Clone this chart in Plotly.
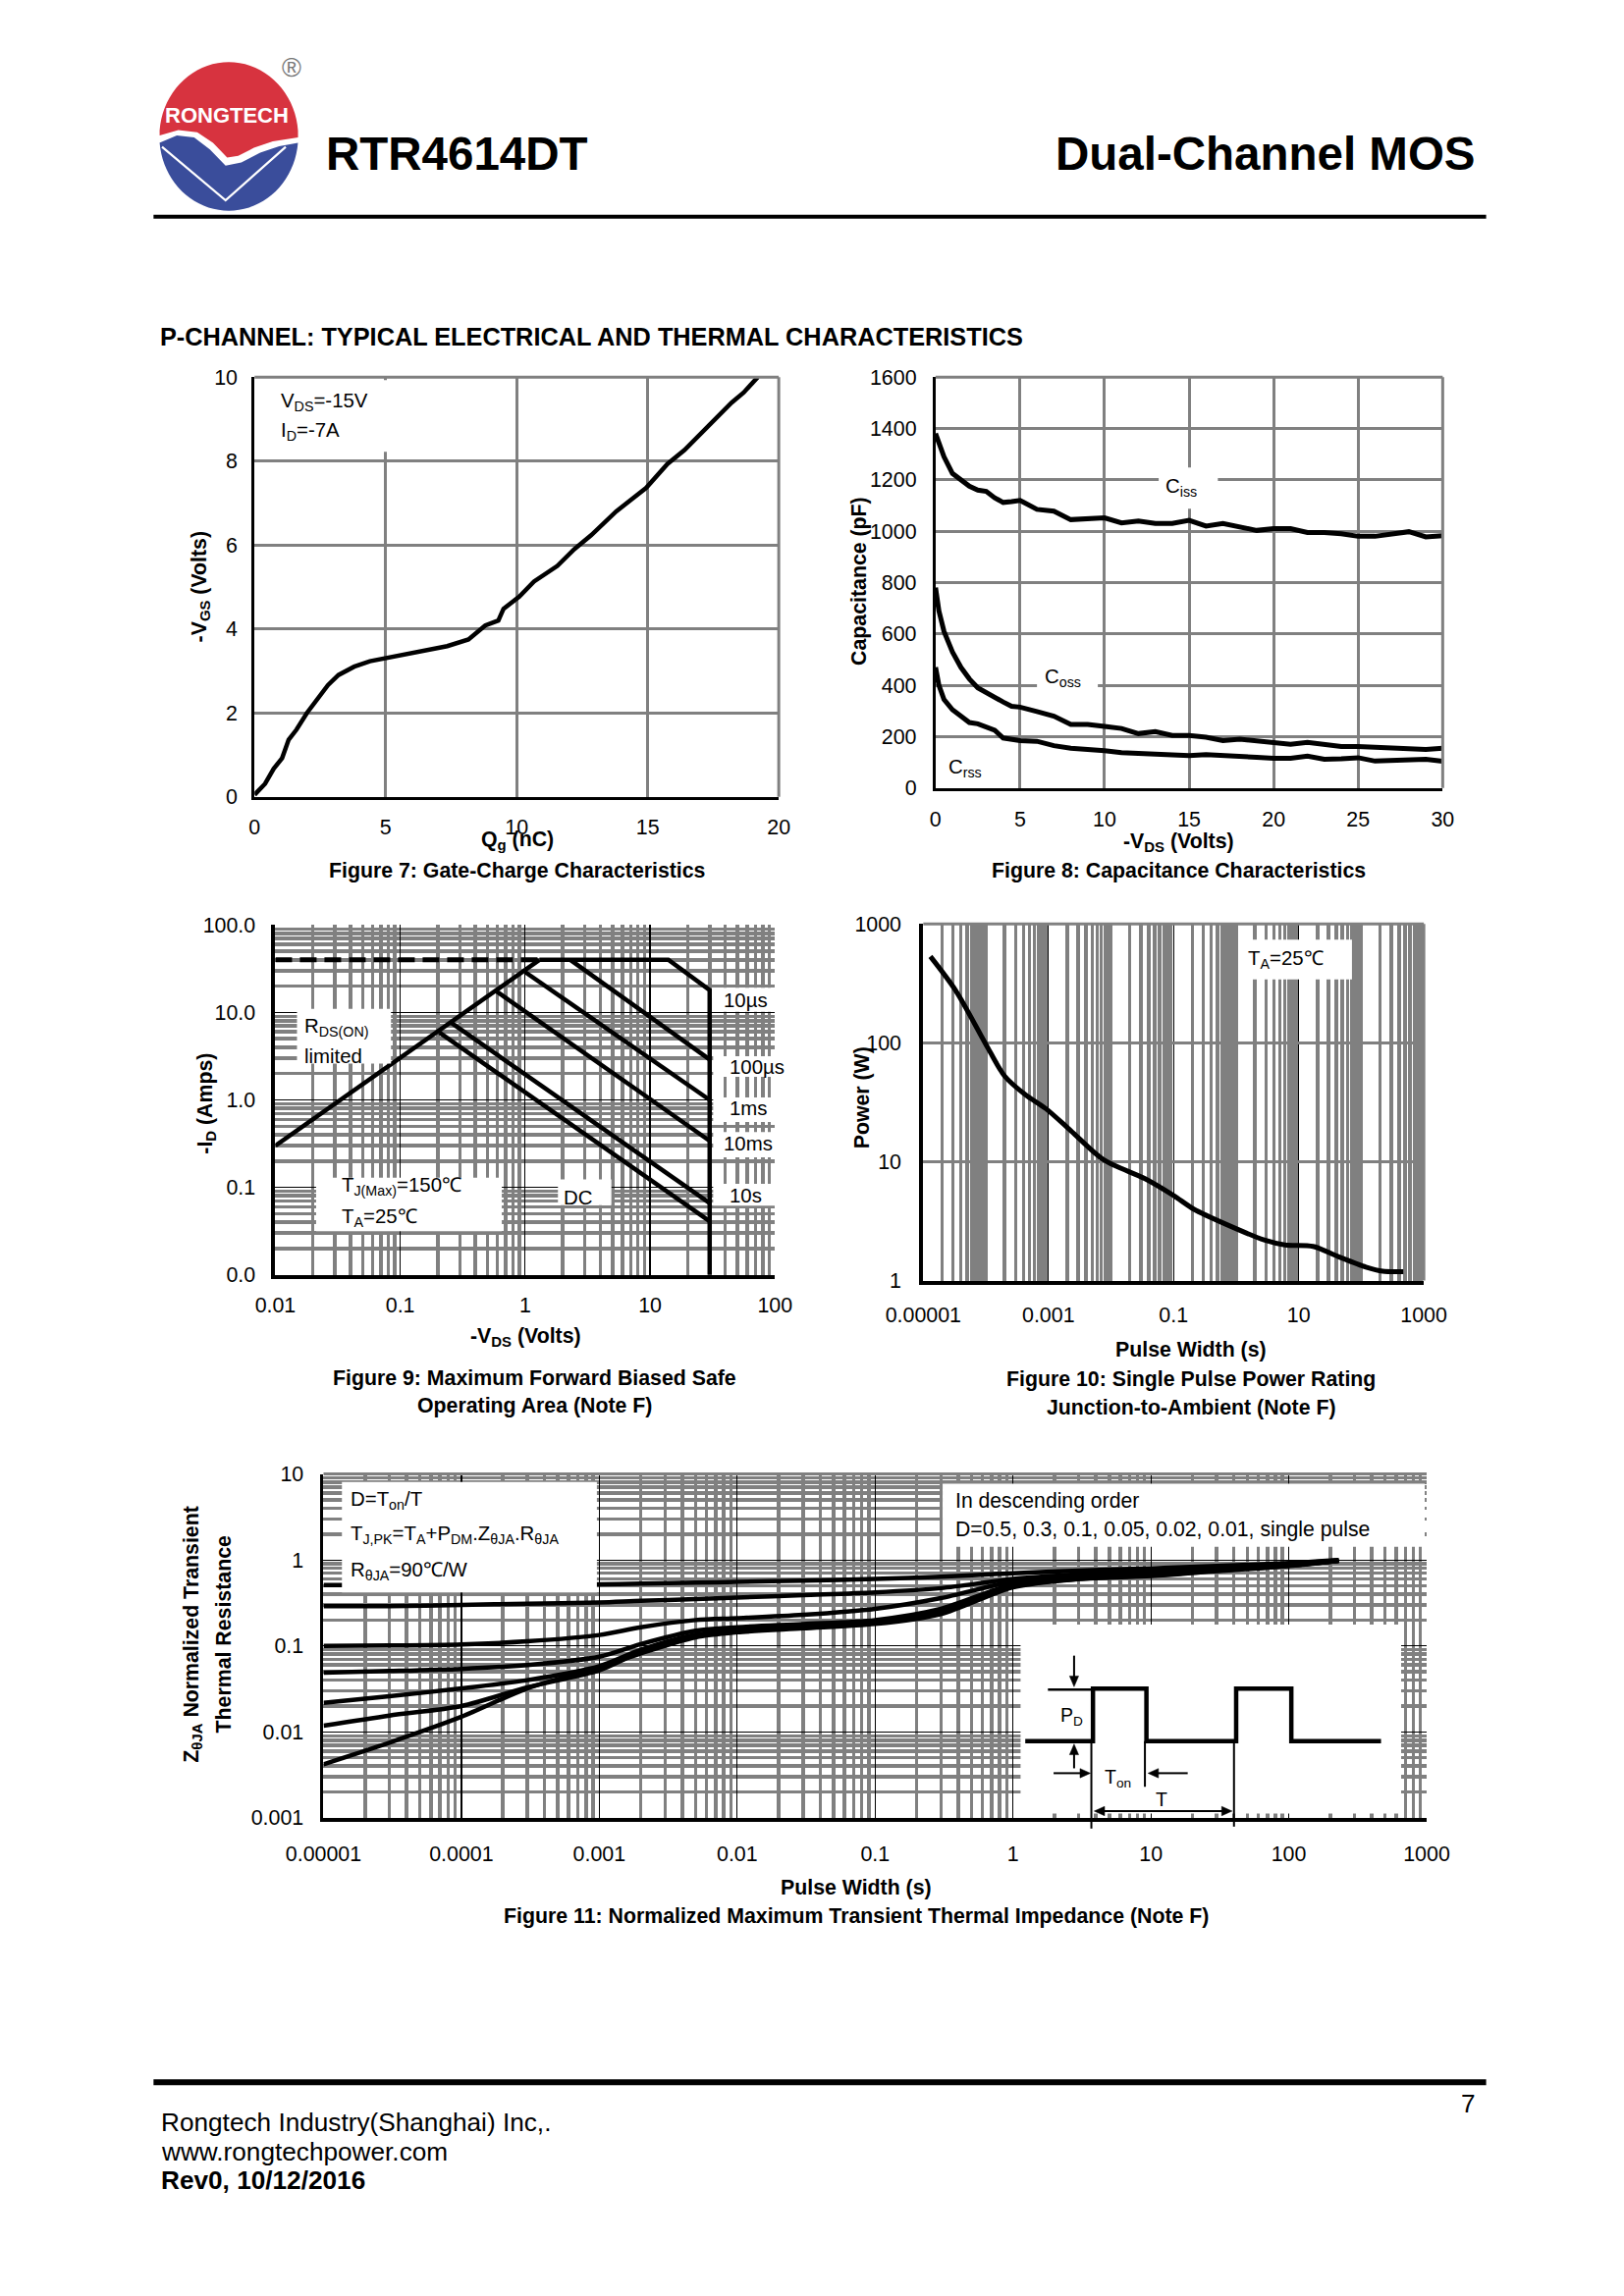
import math
import plotly.graph_objects as go

W, H = 1654, 2339
FONT = "Liberation Sans, Arial, Helvetica, sans-serif"
GRID = "#808080"

# ---------------- data ----------------
# Figure 7: gate charge
gc_qg_nc = [0, 0.4, 0.73, 1.05, 1.3, 1.6, 2.0, 2.4, 2.8, 3.2, 3.8, 4.4, 5.1, 5.7, 6.5, 7.35, 8.16,
            8.8, 9.3, 9.5, 10.1, 10.66, 11.55, 12.2, 12.84, 13.8, 14.94, 15.75, 16.4, 16.9, 17.5,
            18.2, 18.66, 19.2]
gc_vgs_v = [0.05, 0.31, 0.67, 0.92, 1.36, 1.6, 2.0, 2.34, 2.66, 2.9, 3.1, 3.23, 3.31, 3.39, 3.47,
            3.59, 3.75, 4.08, 4.2, 4.48, 4.77, 5.13, 5.5, 5.9, 6.23, 6.8, 7.36, 7.93, 8.26, 8.58,
            8.95, 9.39, 9.63, 10.0]

# Figure 8: capacitance
cap_vds_v = [0, 0.2, 0.5, 1, 1.5, 2, 2.5, 3, 3.5, 4, 4.5, 5, 6, 7, 8, 9, 10, 11, 12, 13, 14, 15,
             16, 17, 18, 19, 20, 21, 22, 23, 24, 25, 26, 27, 28, 29, 30]
cap_ciss_pf = [1380, 1345, 1290, 1225, 1200, 1175, 1160, 1155, 1130, 1112, 1115, 1120, 1085, 1078,
               1045, 1050, 1052, 1032, 1040, 1030, 1030, 1042, 1020, 1030, 1015, 1003, 1010, 1010,
               995, 995, 990, 980, 980, 988, 998, 978, 982]
cap_coss_pf = [780, 690, 610, 530, 470, 425, 390, 370, 355, 335, 318, 315, 298, 280, 248, 248, 240,
               232, 212, 220, 205, 205, 198, 185, 190, 182, 175, 170, 178, 168, 162, 162, 160, 158,
               152, 150, 155]
cap_crss_pf = [470, 400, 345, 305, 280, 255, 250, 235, 225, 195, 188, 185, 182, 165, 155, 152, 145,
               138, 136, 134, 132, 126, 130, 128, 124, 120, 116, 116, 124, 112, 114, 118, 105, 108,
               108, 112, 104]

# Figure 9: safe operating area
soa_dash_v = [0.01, 1.3]
soa_dash_a = [40, 40]
soa_limit_v = [1.3, 14, 30, 30]
soa_limit_a = [40, 40, 18, 0.01]
soa_rds_v = [0.01, 1.3]
soa_rds_a = [0.3, 40]
soa_100us_v = [2.3, 30]
soa_100us_a = [40, 2.9]
soa_1ms_v = [1.0, 30]
soa_1ms_a = [29, 1.0]
soa_10ms_v = [0.59, 30]
soa_10ms_a = [17.4, 0.34]
soa_10s_v = [0.254, 30]
soa_10s_a = [7.7, 0.066]
soa_dc_v = [0.206, 30]
soa_dc_a = [5.9, 0.041]
soa_x_tickvals = [0.01, 0.1, 1, 10, 100]
soa_x_ticktext = ["0.01", "0.1", "1", "10", "100"]
soa_y_tickvals = [0.01, 0.1, 1, 10, 100]
soa_y_ticktext = ["0.0", "0.1", "1.0", "10.0", "100.0"]

# Figure 10: single pulse power
spp_pw_s = [1.3e-5, 3.3e-5, 1.1e-4, 2.0e-4, 4.3e-4, 9.1e-4, 2.3e-3, 7.6e-3, 3.5e-2, 0.1, 0.21,
            0.7, 2.8, 6, 17, 42, 119, 220, 470]
spp_power_w = [534, 276, 89, 52.6, 36.6, 28, 18.2, 10.4, 7.2, 5.2, 4.0, 2.97, 2.2, 2.0, 1.94,
               1.6, 1.3, 1.2, 1.19]
spp_x_tickvals = [1e-5, 1e-3, 0.1, 10, 1000]
spp_x_ticktext = ["0.00001", "0.001", "0.1", "10", "1000"]
spp_y_tickvals = [1, 10, 100, 1000]
spp_y_ticktext = ["1", "10", "100", "1000"]

# Figure 11: normalized transient thermal impedance
zth_pw_s = [1e-5, 3e-5, 1e-4, 3e-4, 1e-3, 2e-3, 5e-3, 1e-2, 3e-2, 0.1, 0.3, 1, 3, 10, 30, 100, 230]
zth_d050 = [0.51, 0.51, 0.51, 0.515, 0.52, 0.53, 0.545, 0.555, 0.575, 0.60, 0.64, 0.70, 0.75, 0.80, 0.85, 0.92, 1.0]
zth_d030 = [0.29, 0.29, 0.30, 0.31, 0.32, 0.335, 0.35, 0.365, 0.39, 0.42, 0.47, 0.60, 0.68, 0.75, 0.82, 0.90, 0.99]
zth_d010 = [0.100, 0.101, 0.104, 0.113, 0.134, 0.165, 0.200, 0.210, 0.230, 0.27, 0.36, 0.56, 0.64, 0.70, 0.78, 0.88, 0.99]
zth_d005 = [0.049, 0.051, 0.054, 0.060, 0.075, 0.105, 0.150, 0.165, 0.180, 0.20, 0.27, 0.52, 0.62, 0.68, 0.76, 0.87, 0.98]
zth_d002 = [0.0218, 0.026, 0.032, 0.040, 0.058, 0.090, 0.135, 0.152, 0.170, 0.19, 0.25, 0.50, 0.61, 0.67, 0.75, 0.86, 0.98]
zth_d001 = [0.0118, 0.0155, 0.020, 0.033, 0.052, 0.085, 0.130, 0.148, 0.165, 0.185, 0.24, 0.49, 0.60, 0.66, 0.75, 0.86, 0.98]
zth_single = [0.0042, 0.0075, 0.0150, 0.032, 0.056, 0.082, 0.126, 0.144, 0.160, 0.180, 0.235, 0.48, 0.60, 0.65, 0.74, 0.85, 0.98]
zth_x_tickvals = [1e-5, 1e-4, 1e-3, 1e-2, 0.1, 1, 10, 100, 1000]
zth_x_ticktext = ["0.00001", "0.0001", "0.001", "0.01", "0.1", "1", "10", "100", "1000"]
zth_y_tickvals = [0.001, 0.01, 0.1, 1, 10]
zth_y_ticktext = ["0.001", "0.01", "0.1", "1", "10"]

# ---------------- layout helpers ----------------
F7 = (229, 376, 784, 808)     # left, top, right, bottom in page pixels
F8 = (950, 376, 1487, 799)
F9 = (251, 940, 780, 1300)
F10 = (937, 939, 1467, 1306)
F11 = (302, 1505, 1470, 1859)

TICK = 21.4
TITLE = 21.3
LABEL = 20.4


def dom(box):
    L, T, R, B = box
    return [L / W, R / W], [1 - B / H, 1 - T / H]


def px(x):
    return x / W


def py(y):
    return 1 - y / H


def minor_vals(n0, n1, ks, exclude=()):
    out = []
    for n in range(n0, n1 + 1):
        for k in ks:
            v = k * 10.0 ** n
            if any(abs(math.log10(v) - math.log10(e)) < 1e-6 for e in exclude):
                continue
            out.append(v)
    return out


TICKFONT = dict(family=FONT, size=TICK, color="black")


def lin_axis(domain, rng, dtick, anchor, standoff):
    return dict(domain=domain, range=rng, dtick=dtick, tick0=0, anchor=anchor,
                showgrid=True, gridcolor=GRID, gridwidth=3, zeroline=False,
                showline=True, linecolor="black", linewidth=3, ticks="",
                ticklabelstandoff=standoff, tickfont=TICKFONT, fixedrange=True)


def log_axis(domain, rng, tickvals, ticktext, anchor, standoff, major_color, major_width,
             minor_list=None, linewidth=3.5):
    d = dict(domain=domain, type="log", range=rng, tickmode="array", tickvals=tickvals,
             ticktext=ticktext, anchor=anchor, showgrid=True, gridcolor=major_color,
             gridwidth=major_width, zeroline=False, showline=True, linecolor="black",
             linewidth=linewidth, ticks="", ticklabelstandoff=standoff, tickfont=TICKFONT,
             fixedrange=True)
    if minor_list:
        d["minor"] = dict(tickmode="array", tickvals=minor_list, showgrid=True,
                          gridcolor=GRID, gridwidth=3.5, ticks="")
    return d


fig = go.Figure()


def line(x, y, xa, ya, width=4.5, dash=None, shape="linear"):
    fig.add_trace(go.Scatter(x=x, y=y, xaxis=xa, yaxis=ya, mode="lines",
                             line=dict(color="black", width=width, dash=dash, shape=shape,
                                       smoothing=0.8 if shape == "spline" else None),
                             hoverinfo="skip", showlegend=False))


# Figure 7
line(gc_qg_nc, gc_vgs_v, "x", "y", 4.5)
# Figure 8
line(cap_vds_v, cap_ciss_pf, "x2", "y2", 5)
line(cap_vds_v, cap_coss_pf, "x2", "y2", 5)
line(cap_vds_v, cap_crss_pf, "x2", "y2", 5)
# Figure 9
line(soa_dash_v, soa_dash_a, "x3", "y3", 5, dash="17px,8px")
line(soa_limit_v, soa_limit_a, "x3", "y3", 4.5)
for xv, yv in [(soa_rds_v, soa_rds_a), (soa_100us_v, soa_100us_a), (soa_1ms_v, soa_1ms_a),
               (soa_10ms_v, soa_10ms_a), (soa_10s_v, soa_10s_a), (soa_dc_v, soa_dc_a)]:
    line(xv, yv, "x3", "y3", 4.5)
# Figure 10
line(spp_pw_s, spp_power_w, "x4", "y4", 5, shape="spline")
# Figure 11
for yv in [zth_d050, zth_d030, zth_d010, zth_d005, zth_d002, zth_d001, zth_single]:
    line(zth_pw_s, yv, "x5", "y5", 4.5, shape="spline")

d7x, d7y = dom(F7)
d8x, d8y = dom(F8)
d9x, d9y = dom(F9)
d10x, d10y = dom(F10)
d11x, d11y = dom(F11)

layout = dict(
    width=W, height=H, margin=dict(l=0, r=0, t=0, b=0, pad=0),
    paper_bgcolor="white", plot_bgcolor="white", showlegend=False,
    font=dict(family=FONT, color="black"),
    xaxis=lin_axis(d7x, [0, 20], 5, "y", 10),
    yaxis=lin_axis(d7y, [0, 10], 2, "x", 10),
    xaxis2=lin_axis(d8x, [0, 30], 5, "y2", 11),
    yaxis2=lin_axis(d8y, [0, 1600], 200, "x2", 12),
    xaxis3=log_axis(d9x, [-2, 2], soa_x_tickvals, soa_x_ticktext, "y3", 9, "black", 1.2,
                    minor_vals(-2, 1, range(2, 10)), 4),
    yaxis3=log_axis(d9y, [-2, 2], soa_y_tickvals, soa_y_ticktext, "x3", 12, "black", 1.2,
                    minor_vals(-2, 1, range(2, 10)), 4),
    xaxis4=log_axis(d10x, [-5, 3], spp_x_tickvals, spp_x_ticktext, "y4", 13, "black", 1.2,
                    minor_vals(-5, 2, range(1, 10), exclude=spp_x_tickvals), 4),
    yaxis4=log_axis(d10y, [0, 3], spp_y_tickvals, spp_y_ticktext, "x4", 14, GRID, 3.5, None, 4),
    xaxis5=log_axis(d11x, [-5, 3], zth_x_tickvals, zth_x_ticktext, "y5", 14, "black", 1.2,
                    minor_vals(-5, 2, range(2, 10)), 4),
    yaxis5=log_axis(d11y, [-3, 1], zth_y_tickvals, zth_y_ticktext, "x5", 13, "black", 1.2,
                    minor_vals(-3, 0, range(2, 10)), 3),
)
fig.update_layout(**layout)

shapes = []
annotations = []


def ann(text, x, y, size=TITLE, bold=False, xanchor="center", yanchor="middle", angle=0,
        color="black"):
    t = f"<b>{text}</b>" if bold else text
    annotations.append(dict(text=t, x=px(x), y=py(y), xref="paper", yref="paper",
                            showarrow=False, xanchor=xanchor, yanchor=yanchor, textangle=angle,
                            font=dict(family=FONT, size=size, color=color)))


def white_box(xr, yr, x0, x1, y0, y1):
    shapes.append(dict(type="rect", xref=xr, yref=yr, x0=x0, x1=x1, y0=y0, y1=y1,
                       fillcolor="white", line=dict(width=0), layer="above"))


def border(xa, ya, sides):
    for s in sides:
        if s == "top":
            shapes.append(dict(type="line", xref=xa + " domain", yref=ya + " domain",
                               x0=0, x1=1, y0=1, y1=1, line=dict(color=GRID, width=3),
                               layer="above"))
        if s == "right":
            shapes.append(dict(type="line", xref=xa + " domain", yref=ya + " domain",
                               x0=1, x1=1, y0=0, y1=1, line=dict(color=GRID, width=3),
                               layer="above"))


def pline(x0, y0, x1, y1, width=2, color="black"):
    shapes.append(dict(type="line", xref="paper", yref="paper", x0=px(x0), y0=py(y0),
                       x1=px(x1), y1=py(y1), line=dict(color=color, width=width), layer="above"))


def ppath(points, close=False, fill=None, width=0, color="black"):
    s = "M " + " L ".join(f"{px(a):.5f},{py(b):.5f}" for a, b in points)
    if close:
        s += " Z"
    d = dict(type="path", xref="paper", yref="paper", path=s, layer="above",
             line=dict(color=color, width=width))
    if fill:
        d["fillcolor"] = fill
    shapes.append(d)


def head(tip, direction, size=11, half=4.8):
    x, y = tip
    if direction == "down":
        pts = [(x, y), (x - half, y - size), (x + half, y - size)]
    elif direction == "up":
        pts = [(x, y), (x - half, y + size), (x + half, y + size)]
    elif direction == "right":
        pts = [(x, y), (x - size, y - half), (x - size, y + half)]
    else:
        pts = [(x, y), (x + size, y - half), (x + size, y + half)]
    ppath(pts, close=True, fill="black", width=0.5)


# ---------------- page header ----------------
cx, cy, rx, ry = 201.7, 128.3, 73.5, 76.5
red_edge = [(128.5, 127.3), (148.3, 121.7), (168.3, 124), (185, 135), (200, 150),
            (211.7, 148.3), (228.3, 140), (248.3, 133.3), (275, 129.3)]
red_arc = [(cx + rx * math.cos(t), cy - ry * math.sin(t))
           for t in [i * math.pi / 40 for i in range(1, 40)]]
ppath(red_edge + red_arc, close=True, fill="#D7333F", width=0, color="#D7333F")
blue_edge = [(128.3, 135), (146.7, 127.3), (165, 129.3), (181.7, 141.7), (198.3, 158.3),
             (215, 155), (235, 145), (255, 138.3), (275, 135)]
blue_arc = [(cx + rx * math.cos(t), cy - ry * math.sin(t))
            for t in [-0.09 - i * (math.pi - 0.18) / 40 for i in range(0, 41)]]
ppath(blue_edge + blue_arc, close=True, fill="#3A4D9B", width=0, color="#3A4D9B")
ppath([(131, 139), (198.3, 194), (262, 139)], close=False, width=2.2, color="white")
ann("<b>RONGTECH</b>", 200, 107, size=22, color="white")
ann("®", 268.5, 58, size=27, color="#777777")

ann("RTR4614DT", 303, 146, size=47.5, bold=True, xanchor="left")
ann("Dual-Channel MOS", 1524, 146, size=47.5, bold=True, xanchor="right")
pline(122, 211, 1533, 211, width=4)
ann("P-CHANNEL: TYPICAL ELECTRICAL AND THERMAL CHARACTERISTICS", 127, 334, size=25.3,
    bold=True, xanchor="left")

# ---------------- Figure 7 ----------------
white_box("x", "y", 0.15, 6.5, 8.22, 9.93)
border("x", "y", ["top", "right"])
ann("V<sub>DS</sub>=-15V", 255, 402, size=LABEL, xanchor="left")
ann("I<sub>D</sub>=-7A", 255, 432, size=LABEL, xanchor="left")
ann("-V<sub>GS</sub> (Volts)", 171, 592, bold=True, angle=-90)
ann("Q<sub>g</sub> (nC)", 507, 853, bold=True)
ann("Figure 7: Gate-Charge Characteristics", 507, 884, bold=True)

# ---------------- Figure 8 ----------------
white_box("x2", "y2", 13.2, 16.7, 1087, 1248)
white_box("x2", "y2", 6.0, 9.6, 335, 470)
border("x2", "y2", ["top", "right"])
ann("C<sub>iss</sub>", 1191, 490, size=LABEL, xanchor="left")
ann("C<sub>oss</sub>", 1064, 686, size=LABEL, xanchor="left")
ann("C<sub>rss</sub>", 962, 778, size=LABEL, xanchor="left")
ann("Capacitance (pF)", 869, 586, bold=True, angle=-90)
ann("-V<sub>DS</sub> (Volts)", 1208, 855, bold=True)
ann("Figure 8: Capacitance Characteristics", 1208, 884, bold=True)

# ---------------- Figure 9 ----------------
white_box("x3", "y3", 0.0149, 0.0843, 2.6, 11)
white_box("x3", "y3", 0.0212, 0.65, 0.0316, 0.129)
white_box("x3", "y3", 1.83, 4.9, 0.0627, 0.123)
for y0, y1 in [(10.2, 19.2), (1.83, 3.16), (0.56, 1.07), (0.22, 0.43), (0.0616, 0.11)]:
    white_box("x3", "y3", 32, 100, y0, y1)
ann("R<sub>DS(ON)</sub>", 280, 1045, size=LABEL, xanchor="left")
ann("limited", 280, 1075, size=LABEL, xanchor="left")
ann("T<sub>J(Max)</sub>=150℃", 319, 1209, size=LABEL, xanchor="left")
ann("T<sub>A</sub>=25℃", 319, 1241, size=LABEL, xanchor="left")
ann("DC", 554, 1221, size=LABEL, xanchor="left")
ann("10µs", 724, 1017, size=LABEL, xanchor="left")
ann("100µs", 730, 1086, size=LABEL, xanchor="left")
ann("1ms", 730, 1129, size=LABEL, xanchor="left")
ann("10ms", 724, 1165, size=LABEL, xanchor="left")
ann("10s", 730, 1219, size=LABEL, xanchor="left")
ann("-I<sub>D</sub> (Amps)", 178, 1124, bold=True, angle=-90)
ann("-V<sub>DS</sub> (Volts)", 516, 1364, bold=True)
ann("Figure 9: Maximum Forward Biased Safe", 526, 1406, bold=True)
ann("Operating Area (Note F)", 526, 1435, bold=True)

# ---------------- Figure 10 ----------------
white_box("x4", "y4", 1.15, 71, 342, 741)
border("x4", "y4", ["top", "right"])
ann("T<sub>A</sub>=25℃", 1279, 976, size=LABEL, xanchor="left")
ann("Power (W)", 872, 1118, bold=True, angle=-90)
ann("Pulse Width (s)", 1221, 1377, bold=True)
ann("Figure 10: Single Pulse Power Rating", 1221, 1407, bold=True)
ann("Junction-to-Ambient (Note F)", 1221, 1437, bold=True)

# ---------------- Figure 11 ----------------
white_box("x5", "y5", 1.36e-5, 9.6e-4, 0.42, 8.05)
white_box("x5", "y5", 0.309, 968, 1.42, 7.7)
white_box("x5", "y5", 1.135, 653, 0.00112, 0.177)
border("x5", "y5", ["top"])
ann("D=T<sub>on</sub>/T", 328, 1532, size=LABEL, xanchor="left")
ann("T<sub>J,PK</sub>=T<sub>A</sub>+P<sub>DM</sub>.Z<sub>θJA</sub>.R<sub>θJA</sub>", 328, 1568,
    size=LABEL, xanchor="left")
ann("R<sub>θJA</sub>=90℃/W", 328, 1605, size=LABEL, xanchor="left")
ann("In descending order", 969, 1533, size=21.2, xanchor="left")
ann("D=0.5, 0.3, 0.1, 0.05, 0.02, 0.01, single pulse", 969, 1562, size=21.2, xanchor="left")
# pulse-train inset (explanatory drawing)
ppath([(1045, 1780), (1116.7, 1780), (1116.7, 1726), (1173.3, 1726), (1173.3, 1780),
       (1268.3, 1780), (1268.3, 1726), (1326.7, 1726), (1326.7, 1780), (1421.7, 1780)],
      width=4.5)
pline(1069, 1727, 1116, 1727, width=2.5)
pline(1115, 1780, 1115, 1870, width=2)
pline(1171.7, 1780, 1171.7, 1827, width=2)
pline(1266, 1780, 1266, 1868, width=2)
pline(1096.7, 1692, 1096.7, 1714, width=2)
head((1096.7, 1724), "down")
pline(1096.7, 1793, 1096.7, 1808, width=2)
head((1096.7, 1783), "up")
pline(1075, 1813, 1104, 1813, width=2)
head((1114, 1813), "right")
pline(1185, 1813, 1217, 1813, width=2)
head((1175, 1813), "left")
pline(1128, 1852, 1254, 1852, width=2)
head((1118, 1852), "left")
head((1264, 1852), "right")
ann("P<sub>D</sub>", 1094, 1755, size=19.5)
ann("T<sub>on</sub>", 1143, 1818, size=19.5)
ann("T", 1189, 1840, size=19.5)
ann("Z<sub>θJA</sub> Normalized Transient", 163, 1670, bold=True, angle=-90)
ann("Thermal Resistance", 196, 1670, bold=True, angle=-90)
ann("Pulse Width (s)", 866, 1931, bold=True)
ann("Figure 11: Normalized Maximum Transient Thermal Impedance (Note F)", 866, 1960, bold=True)

# ---------------- footer ----------------
pline(122, 2131, 1533, 2131, width=6)
ann("Rongtech Industry(Shanghai) Inc,.", 128, 2172, size=26.2, xanchor="left")
ann("www.rongtechpower.com", 128, 2203, size=26.2, xanchor="left")
ann("Rev0, 10/12/2016", 128, 2232, size=26.2, bold=True, xanchor="left")
ann("7", 1524, 2153, size=26.2, xanchor="right")

fig.update_layout(shapes=shapes, annotations=annotations)

fig.write_html("out.html", config={"staticPlot": True},
               post_script="document.body.style.margin='0';document.body.style.padding='0';")
